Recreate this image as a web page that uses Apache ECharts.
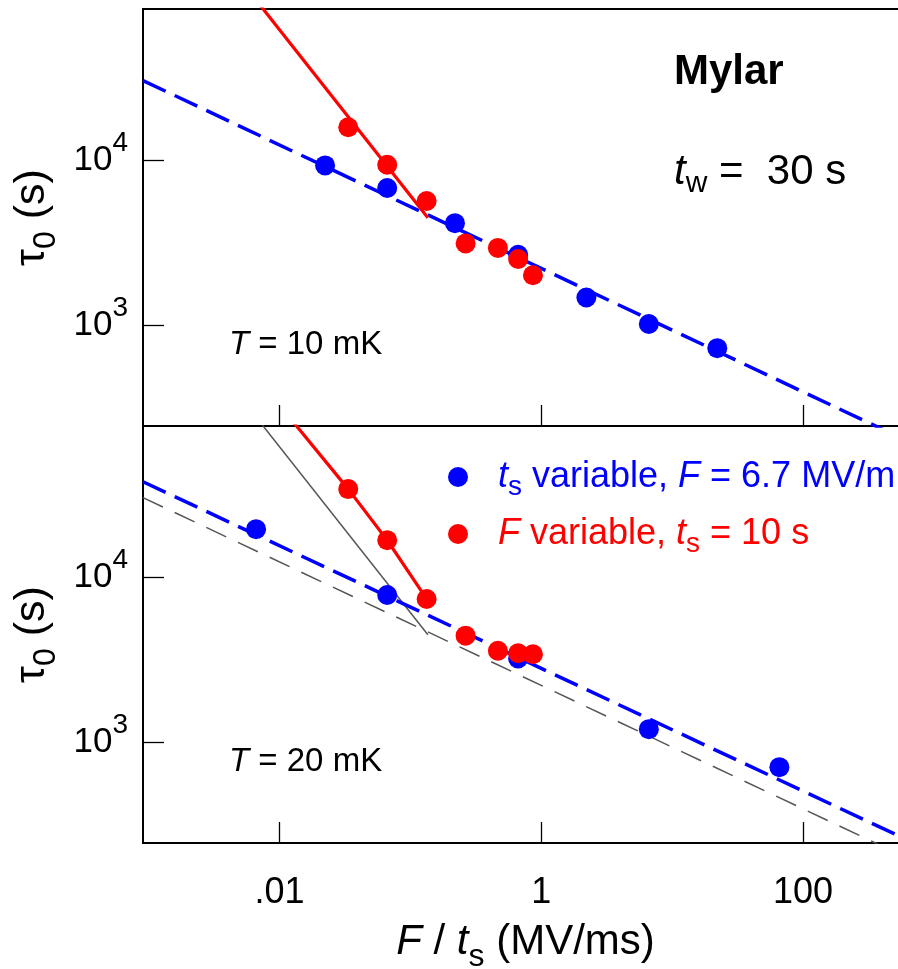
<!DOCTYPE html>
<html>
<head>
<meta charset="utf-8">
<script src="https://cdn.jsdelivr.net/npm/echarts@6/dist/echarts.min.js"></script>
<style>
  html, body { margin: 0; padding: 0; background: #fff; }
  #main { width: 898px; height: 969px; }
</style>
</head>
<body>
<div id="main"></div>
<script>
  // T = 10 mK panel
  var xTopBlue = [0.0223, 0.0665, 0.219, 0.665, 2.21, 6.63, 22.1];
  var tauTopBlue = [9270, 6760, 4140, 2660, 1466, 1014, 723];
  var xTopRed = [0.0335, 0.0665, 0.133, 0.264, 0.466, 0.665, 0.863];
  var tauTopRed = [15800, 9360, 5640, 3120, 2930, 2510, 2000];
  // T = 20 mK panel
  var xBotBlue = [0.00662, 0.0665, 0.665, 6.63, 65.9];
  var tauBotBlue = [19500, 7780, 3210, 1195, 703];
  var xBotRed = [0.0335, 0.0665, 0.133, 0.264, 0.466, 0.665, 0.863];
  var tauBotRed = [34100, 16700, 7360, 4410, 3570, 3450, 3400];

  // fit lines (end points)
  var fitTopBlueX = [0.000906, 1000];
  var fitTopBlueTau = [30300, 166];
  var fitTopRedX = [0.0063, 0.136];
  var fitTopRedTau = [98000, 4470];
  var fitBotBlueX = [0.000906, 1000];
  var fitBotBlueTau = [37800, 214];
  var fitBotRedX = [0.0120, 0.0335, 0.0665, 0.133];
  var fitBotRedTau = [92200, 34100, 16700, 7360];

  var xTicks = [0.01, 1, 100];
  var yTicks = [1000, 10000];
  var xMin = 0.000906, xMax = 1000;
  var yMin = 244, yMax = 82300;

  var FONT = "'Liberation Sans', Arial, sans-serif";
  var BLUE = '#0000ff';
  var RED = '#ff0000';
  var GRAY = '#555555';

  function pairs(xs, ys) {
    return xs.map(function (x, i) { return [x, ys[i]]; });
  }

  var myChart = echarts.init(document.getElementById('main'), null, { renderer: 'canvas' });

  function xAxisOf(idx, withLabels) {
    return {
      type: 'log',
      gridIndex: idx,
      min: xMin,
      max: xMax,
      axisLine: { show: false },
      splitLine: { show: false },
      minorTick: { show: false },
      axisTick: {
        show: true, inside: true, length: 21,
        customValues: xTicks,
        lineStyle: { color: '#000', width: 1.3 }
      },
      axisLabel: {
        show: withLabels,
        customValues: xTicks,
        margin: 32,
        fontFamily: FONT,
        fontSize: 36,
        color: '#000',
        formatter: function (v) {
          if (Math.abs(v - 0.01) < 1e-9) return '.01';
          return String(Math.round(v));
        }
      },
      // trailing spacer pulls the centred title a little to the left, as in the original
      name: withLabels ? '{i|F}{n| / }{i|t}{sub|s}{n| (MV/ms)}{e| }' : '',
      nameLocation: 'middle',
      nameGap: 76,
      nameTextStyle: {
        rich: {
          i: { fontFamily: FONT, fontSize: 42, fontStyle: 'italic', color: '#000', lineHeight: 46 },
          n: { fontFamily: FONT, fontSize: 42, color: '#000', lineHeight: 46 },
          sub: { fontFamily: FONT, fontSize: 32, color: '#000', verticalAlign: 'bottom', height: 16, lineHeight: 16 },
          e: { width: 26, fontSize: 10, lineHeight: 46 }
        }
      }
    };
  }

  function yAxisOf(idx) {
    return {
      type: 'log',
      gridIndex: idx,
      min: yMin,
      max: yMax,
      axisLine: { show: false },
      splitLine: { show: false },
      minorTick: { show: false },
      axisTick: {
        show: true, inside: true, length: 21,
        customValues: yTicks,
        lineStyle: { color: '#000', width: 1.3 }
      },
      axisLabel: {
        customValues: yTicks,
        margin: 15,
        formatter: function (v) {
          return '{b|10}{p|' + Math.round(Math.log10(v)) + '}';
        },
        rich: {
          b: { fontFamily: FONT, fontSize: 35, color: '#000', lineHeight: 42 },
          p: { fontFamily: FONT, fontSize: 28, color: '#000', verticalAlign: 'top', height: 8, lineHeight: 8 }
        }
      },
      name: '{t|τ}{s|0}{t| (s)}',
      nameLocation: 'middle',
      nameGap: 88,
      nameRotate: 90,
      nameTextStyle: {
        rich: {
          t: { fontFamily: FONT, fontSize: 43, color: '#000', lineHeight: 46 },
          s: { fontFamily: FONT, fontSize: 32, color: '#000', verticalAlign: 'bottom', height: 18, lineHeight: 18 }
        }
      }
    };
  }

  function fitLine(name, xi, xs, ys, color, width, dash, z) {
    return {
      name: name,
      type: 'line',
      xAxisIndex: xi, yAxisIndex: xi,
      data: pairs(xs, ys),
      symbol: 'none',
      clip: true,
      silent: true,
      z: z,
      lineStyle: { color: color, width: width, type: dash }
    };
  }

  function dots(name, xi, xs, ys, color, z) {
    return {
      name: name,
      type: 'scatter',
      xAxisIndex: xi, yAxisIndex: xi,
      data: pairs(xs, ys),
      symbol: 'circle',
      symbolSize: 20,
      z: z,
      itemStyle: { color: color, opacity: 1 }
    };
  }

  var option = {
    animation: false,
    backgroundColor: '#fff',
    grid: [
      { left: 143, top: 9, width: 791, height: 417, show: true, borderColor: '#000', borderWidth: 2, backgroundColor: 'transparent', outerBoundsMode: 'none' },
      { left: 143, top: 426, width: 791, height: 417, show: true, borderColor: '#000', borderWidth: 2, backgroundColor: 'transparent', outerBoundsMode: 'none' }
    ],
    xAxis: [xAxisOf(0, false), xAxisOf(1, true)],
    yAxis: [yAxisOf(0), yAxisOf(1)],
    legend: {
      orient: 'vertical',
      left: 448,
      top: 459,
      padding: 0,
      itemWidth: 20,
      itemHeight: 20,
      itemGap: 15,
      icon: 'circle',
      selectedMode: false,
      data: ['ts variable', 'F variable'],
      formatter: function (name) {
        if (name === 'ts variable') {
          return '{sp| }{bi|t}{bs|s}{b| variable, }{bi|F}{b| = 6.7 MV/m}';
        }
        return '{sp| }{ri|F}{r| variable, }{ri|t}{rs|s}{r| = 10 s}';
      },
      textStyle: {
        rich: {
          sp: { width: 25, fontSize: 10, lineHeight: 38 },
          b: { fontFamily: FONT, fontSize: 36, color: BLUE, lineHeight: 38 },
          bi: { fontFamily: FONT, fontSize: 36, color: BLUE, fontStyle: 'italic', lineHeight: 38 },
          bs: { fontFamily: FONT, fontSize: 28, color: BLUE, verticalAlign: 'bottom', height: 18, lineHeight: 18 },
          r: { fontFamily: FONT, fontSize: 36, color: RED, lineHeight: 38 },
          ri: { fontFamily: FONT, fontSize: 36, color: RED, fontStyle: 'italic', lineHeight: 38 },
          rs: { fontFamily: FONT, fontSize: 28, color: RED, verticalAlign: 'bottom', height: 18, lineHeight: 18 }
        }
      }
    },
    graphic: [
      {
        type: 'text', z: 100,
        style: { x: 674, y: 72, text: 'Mylar', fontFamily: FONT, fontSize: 42, fontWeight: 'bold', fill: '#000', align: 'left', verticalAlign: 'middle' }
      },
      {
        type: 'text', z: 100,
        style: {
          x: 674, y: 172, align: 'left', verticalAlign: 'middle',
          text: '{i|t}{s|w}{n| =  30 s}',
          rich: {
            i: { fontFamily: FONT, fontSize: 42, fontStyle: 'italic', fill: '#000', lineHeight: 44 },
            n: { fontFamily: FONT, fontSize: 42, fill: '#000', lineHeight: 44 },
            s: { fontFamily: FONT, fontSize: 30, fill: '#000', verticalAlign: 'bottom', height: 20, lineHeight: 20 }
          }
        }
      },
      {
        type: 'text', z: 100,
        style: {
          x: 229, y: 345, align: 'left', verticalAlign: 'middle',
          text: '{i|T}{n| = 10 mK}',
          rich: {
            i: { fontFamily: FONT, fontSize: 33, fontStyle: 'italic', fill: '#000' },
            n: { fontFamily: FONT, fontSize: 33, fill: '#000' }
          }
        }
      },
      {
        type: 'text', z: 100,
        style: {
          x: 229, y: 762, align: 'left', verticalAlign: 'middle',
          text: '{i|T}{n| = 20 mK}',
          rich: {
            i: { fontFamily: FONT, fontSize: 33, fontStyle: 'italic', fill: '#000' },
            n: { fontFamily: FONT, fontSize: 33, fill: '#000' }
          }
        }
      }
    ],
    series: [
      fitLine('fit10b', 0, fitTopBlueX, fitTopBlueTau, BLUE, 3.5, [25, 10], 2),
      fitLine('fit10r', 0, fitTopRedX, fitTopRedTau, RED, 3.2, 'solid', 3),
      dots('ts variable', 0, xTopBlue, tauTopBlue, BLUE, 4),
      dots('F variable', 0, xTopRed, tauTopRed, RED, 5),

      fitLine('copy10b', 1, fitTopBlueX, fitTopBlueTau, GRAY, 1.5, [22, 13], 1),
      fitLine('copy10r', 1, fitTopRedX, fitTopRedTau, GRAY, 1.5, 'solid', 1),
      fitLine('fit20b', 1, fitBotBlueX, fitBotBlueTau, BLUE, 3.5, [25, 10], 2),
      fitLine('fit20r', 1, fitBotRedX, fitBotRedTau, RED, 3.2, 'solid', 3),
      dots('ts variable', 1, xBotBlue, tauBotBlue, BLUE, 4),
      dots('F variable', 1, xBotRed, tauBotRed, RED, 5)
    ]
  };

  myChart.setOption(option);
</script>
</body>
</html>
